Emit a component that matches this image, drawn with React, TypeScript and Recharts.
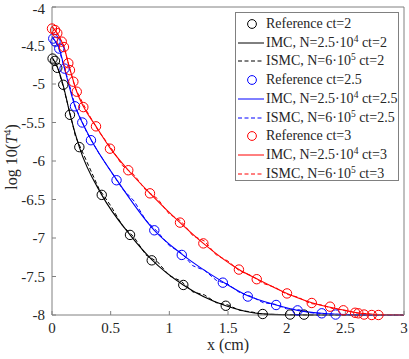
import React from 'react'
import { ComposedChart, Line, XAxis, YAxis } from 'recharts'

const xTicks = [0, 0.5, 1, 1.5, 2, 2.5, 3]
const yTicks = [-8, -7.5, -7, -6.5, -6, -5.5, -5, -4.5, -4]

// reference solutions (circles)
const ref2X = [0.005, 0.025, 0.045, 0.096, 0.153, 0.233, 0.424, 0.665, 0.85, 1.119, 1.481, 1.796, 2.029, 2.148]
const ref2Y = [-4.67, -4.7, -4.79, -5.01, -5.4, -5.82, -6.44, -6.96, -7.29, -7.61, -7.88, -7.987, -7.994, -7.995]
const ref25X = [0.011, 0.03, 0.062, 0.107, 0.196, 0.258, 0.332, 0.55, 0.872, 1.106, 1.456, 1.669, 1.91, 2.093, 2.299, 2.417]
const ref25Y = [-4.41, -4.45, -4.54, -4.8, -5.29, -5.5, -5.73, -6.25, -6.9, -7.22, -7.58, -7.76, -7.87, -7.94, -7.978, -7.994]
const ref3X = [0.0, 0.026, 0.045, 0.083, 0.102, 0.139, 0.153, 0.182, 0.211, 0.267, 0.375, 0.494, 0.65, 0.835, 1.091, 1.29, 1.593, 1.745, 2.003, 2.214, 2.37, 2.483, 2.583, 2.611, 2.66, 2.725, 2.782]
const ref3Y = [-4.28, -4.3, -4.34, -4.45, -4.52, -4.73, -4.82, -4.97, -5.1, -5.3, -5.55, -5.84, -6.12, -6.42, -6.8, -7.07, -7.41, -7.535, -7.72, -7.844, -7.892, -7.939, -7.971, -7.978, -7.994, -8, -8]

// IMC, N=2.5e4
const imc2X = [0, 0.045, 0.096, 0.153, 0.233, 0.424, 0.665, 0.85, 1.119, 1.481, 1.796, 2.1, 2.5, 3]
const imc2Y = [-4.65, -4.78, -5.02, -5.39, -5.82, -6.44, -6.96, -7.28, -7.61, -7.88, -7.985, -7.998, -8, -8]
const imc25X = [0, 0.03, 0.062, 0.107, 0.196, 0.258, 0.332, 0.55, 0.872, 1.106, 1.456, 1.669, 1.91, 2.093, 2.3, 2.5, 2.7, 3]
const imc25Y = [-4.38, -4.45, -4.54, -4.8, -5.29, -5.5, -5.72, -6.24, -6.9, -7.21, -7.57, -7.75, -7.87, -7.94, -7.978, -7.995, -8, -8]
const imc3X = [0, 0.026, 0.045, 0.083, 0.102, 0.139, 0.182, 0.211, 0.267, 0.375, 0.494, 0.65, 0.835, 1.091, 1.29, 1.593, 1.745, 2.003, 2.214, 2.4, 2.6, 2.75, 2.9, 3]
const imc3Y = [-4.25, -4.3, -4.34, -4.45, -4.52, -4.73, -4.96, -5.1, -5.29, -5.55, -5.83, -6.12, -6.42, -6.8, -7.07, -7.41, -7.53, -7.72, -7.84, -7.91, -7.97, -7.995, -8, -8]

// ISMC, N=6e5 (noisy)
const ismc2X = [0, 0.05, 0.1, 0.15, 0.2, 0.3, 0.4, 0.5, 0.6, 0.7, 0.8, 0.9, 1.0, 1.1, 1.2, 1.3, 1.4, 1.5, 1.6, 1.7, 1.8, 2.0, 2.2, 2.5, 3]
const ismc2Y = [-4.66, -4.79, -5.06, -5.36, -5.68, -6.02, -6.36, -6.58, -6.84, -6.99, -7.22, -7.31, -7.49, -7.56, -7.7, -7.74, -7.84, -7.87, -7.94, -7.96, -7.99, -7.995, -8, -8, -8]
const ismc25X = [0, 0.05, 0.1, 0.15, 0.2, 0.3, 0.4, 0.5, 0.6, 0.7, 0.8, 0.9, 1.0, 1.1, 1.2, 1.3, 1.4, 1.5, 1.6, 1.7, 1.8, 1.9, 2.0, 2.1, 2.2, 2.4, 2.6, 3]
const ismc25Y = [-4.39, -4.5, -4.76, -5.02, -5.3, -5.64, -5.9, -6.13, -6.36, -6.52, -6.77, -6.92, -7.1, -7.19, -7.36, -7.42, -7.55, -7.6, -7.71, -7.76, -7.84, -7.86, -7.92, -7.93, -7.97, -7.99, -8, -8]
const ismc3X = [0, 0.05, 0.1, 0.15, 0.2, 0.3, 0.4, 0.5, 0.6, 0.7, 0.8, 0.9, 1.0, 1.1, 1.2, 1.3, 1.4, 1.5, 1.6, 1.7, 1.8, 1.9, 2.0, 2.1, 2.2, 2.3, 2.4, 2.5, 2.6, 2.8, 3]
const ismc3Y = [-4.26, -4.36, -4.5, -4.8, -5.06, -5.36, -5.62, -5.82, -6.06, -6.18, -6.38, -6.49, -6.69, -6.78, -6.97, -7.04, -7.22, -7.3, -7.43, -7.49, -7.59, -7.64, -7.73, -7.77, -7.85, -7.87, -7.92, -7.94, -7.975, -7.995, -8]

const zip = (xs: number[], ys: number[]) => xs.map((x, i) => ({ x, y: ys[i] }))

const FONT = 'Liberation Serif, Times New Roman, serif'
const AXIS = '#808080'
const TXT = '#262626'

const legendRows = [
  { kind: 'circle', color: '#000000', label: 'Reference ct=2' },
  { kind: 'solid', color: '#000000', label: 'imc', ct: '2' },
  { kind: 'dash', color: '#000000', label: 'ismc', ct: '2' },
  { kind: 'circle', color: '#0000ff', label: 'Reference ct=2.5' },
  { kind: 'solid', color: '#0000ff', label: 'imc', ct: '2.5' },
  { kind: 'dash', color: '#0000ff', label: 'ismc', ct: '2.5' },
  { kind: 'circle', color: '#ff0000', label: 'Reference ct=3' },
  { kind: 'solid', color: '#ff0000', label: 'imc', ct: '3' },
  { kind: 'dash', color: '#ff0000', label: 'ismc', ct: '3' },
]

const sup = (s: string) => (
  <span style={{ fontSize: 9.5, position: 'relative', top: -5 }}>{s}</span>
)

function RowText({ row }: { row: (typeof legendRows)[number] }) {
  if (row.label === 'imc') return <span>IMC, N=2.5·10{sup('4')} ct={row.ct}</span>
  if (row.label === 'ismc') return <span>ISMC, N=6·10{sup('5')} ct={row.ct}</span>
  return <span>{row.label}</span>
}

function LegendBox() {
  return (
    <div
      style={{
        position: 'absolute', left: 235, top: 12, width: 164, height: 169,
        border: `1px solid ${AXIS}`, background: '#fff', fontFamily: FONT,
        fontSize: 14, color: TXT, boxSizing: 'border-box', paddingTop: 1.5,
      }}
    >
      {legendRows.map((r, i) => (
        <div key={i} style={{ height: 18.75, display: 'flex', alignItems: 'center', whiteSpace: 'nowrap' }}>
          <svg width={30} height={18} style={{ flexShrink: 0 }}>
            {r.kind === 'circle' && <circle cx={16} cy={9} r={4.4} fill="none" stroke={r.color} strokeWidth={1} />}
            {r.kind === 'solid' && <line x1={2} x2={28} y1={9} y2={9} stroke={r.color} strokeWidth={1} />}
            {r.kind === 'dash' && <line x1={2} x2={28} y1={9} y2={9} stroke={r.color} strokeWidth={1} strokeDasharray="4 2.5" />}
          </svg>
          <RowText row={r} />
        </div>
      ))}
    </div>
  )
}

const YLabel = () => (
  <text transform="translate(17,157) rotate(-90)" textAnchor="middle" fontFamily={FONT} fontSize={16} fill={TXT}>
    log 10(<tspan fontStyle="italic">T</tspan>
    <tspan dy={-6} fontSize={11}>4</tspan>
    <tspan dy={6}>)</tspan>
  </text>
)

export default function App() {
  const tick = { fill: TXT, fontSize: 15, fontFamily: FONT }
  const refSeries = [
    { d: zip(ref2X, ref2Y), c: '#000000' },
    { d: zip(ref25X, ref25Y), c: '#0000ff' },
    { d: zip(ref3X, ref3Y), c: '#ff0000' },
  ]
  const imcSeries = [
    { d: zip(imc2X, imc2Y), c: '#000000' },
    { d: zip(imc25X, imc25Y), c: '#0000ff' },
    { d: zip(imc3X, imc3Y), c: '#ff0000' },
  ]
  const ismcSeries = [
    { d: zip(ismc2X, ismc2Y), c: '#000000' },
    { d: zip(ismc25X, ismc25Y), c: '#0000ff' },
    { d: zip(ismc3X, ismc3Y), c: '#ff0000' },
  ]
  return (
    <div style={{ position: 'absolute', left: 0, top: 0, width: 409, height: 359, background: '#fff', fontFamily: FONT }}>
      <ComposedChart width={409} height={359} margin={{ top: 6, right: 4, bottom: 0, left: 0 }} style={{ fontFamily: FONT }}>
        <XAxis
          xAxisId="bottom" dataKey="x" type="number" domain={[0, 3]} ticks={xTicks}
          height={44} tick={tick} tickSize={-4} tickMargin={11}
          axisLine={{ stroke: AXIS }} tickLine={{ stroke: AXIS }}
          label={{ value: 'x (cm)', position: 'insideBottom', offset: 9, fontSize: 16, fontFamily: FONT, fill: TXT }}
        />
        <XAxis
          xAxisId="top" orientation="top" dataKey="x" type="number" domain={[0, 3]} ticks={xTicks}
          height={1} tickSize={-4} tickFormatter={() => ''}
          axisLine={{ stroke: AXIS }} tickLine={{ stroke: AXIS }}
        />
        <YAxis
          yAxisId="left" type="number" domain={[-8, -4]} ticks={yTicks} width={52}
          tick={tick} tickSize={-4} tickMargin={11}
          axisLine={{ stroke: AXIS }} tickLine={{ stroke: AXIS }}
          label={{ content: () => <YLabel /> }}
        />
        <YAxis
          yAxisId="right" orientation="right" type="number" domain={[-8, -4]} ticks={yTicks} width={1}
          tickSize={-4} tickFormatter={() => ''}
          axisLine={{ stroke: AXIS }} tickLine={{ stroke: AXIS }}
        />
        {refSeries.map((s, i) => (
          <Line
            key={'ref' + i} xAxisId="bottom" yAxisId="left" data={s.d} dataKey="y"
            stroke="none" isAnimationActive={false}
            dot={{ r: 4.7, fill: 'none', stroke: s.c, strokeWidth: 1 }}
          />
        ))}
        {imcSeries.map((s, i) => (
          <Line
            key={'imc' + i} xAxisId="bottom" yAxisId="left" data={s.d} dataKey="y"
            type="monotone" stroke={s.c} strokeWidth={1.1} dot={false} isAnimationActive={false}
          />
        ))}
        {ismcSeries.map((s, i) => (
          <Line
            key={'ismc' + i} xAxisId="bottom" yAxisId="left" data={s.d} dataKey="y"
            type="linear" stroke={s.c} strokeWidth={1} strokeDasharray="4 2.5" dot={false} isAnimationActive={false}
          />
        ))}
      </ComposedChart>
      <LegendBox />
    </div>
  )
}
